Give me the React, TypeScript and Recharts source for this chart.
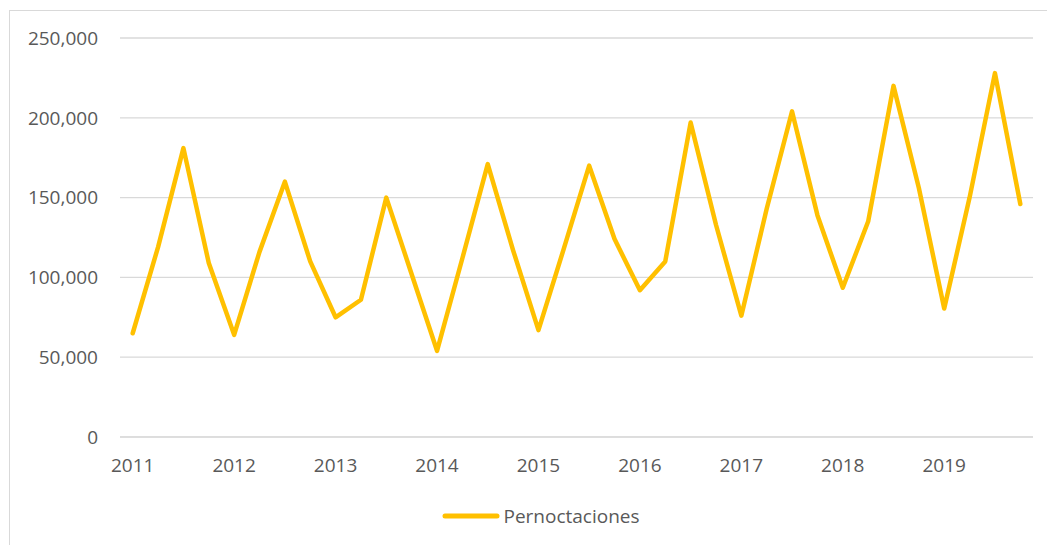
import { CartesianGrid, Legend, Line, LineChart, XAxis, YAxis } from "recharts";

const quarters = [
    "2011 T1", "2011 T2", "2011 T3", "2011 T4",
    "2012 T1", "2012 T2", "2012 T3", "2012 T4",
    "2013 T1", "2013 T2", "2013 T3", "2013 T4",
    "2014 T1", "2014 T2", "2014 T3", "2014 T4",
    "2015 T1", "2015 T2", "2015 T3", "2015 T4",
    "2016 T1", "2016 T2", "2016 T3", "2016 T4",
    "2017 T1", "2017 T2", "2017 T3", "2017 T4",
    "2018 T1", "2018 T2", "2018 T3", "2018 T4",
    "2019 T1", "2019 T2", "2019 T3", "2019 T4",
];

const pernoctaciones = [
    65000, 119000, 181000, 109000,
    64000, 116000, 160000, 110000,
    75000, 86000, 150000, 102000,
    54000, 112000, 171000, 117000,
    67000, 118000, 170000, 124000,
    92000, 110000, 197000, 133000,
    76000, 143000, 204000, 139000,
    93500, 135000, 220000, 156000,
    80500, 150000, 228000, 146000,
];

const yTicks = [0, 50000, 100000, 150000, 200000, 250000];

const data = quarters.map((q, i) => ({ quarter: q, value: pernoctaciones[i] }));

const FONT = "'Open Sans', sans-serif";
const TEXT = "#595959";
const GOLD = "#FFC000";

function LegendBox() {
    return (
        <div style={{ display: "flex", justifyContent: "center", alignItems: "center", height: 40, paddingLeft: 14 }}>
            <svg width={58} height={10} style={{ marginRight: 3 }}>
                <line x1={3} y1={5} x2={55} y2={5} stroke={GOLD} strokeWidth={5} strokeLinecap="round" />
            </svg>
            <span style={{ fontFamily: FONT, fontSize: 19, color: TEXT }}>Pernoctaciones</span>
        </div>
    );
}

export default function App() {
    return (
        <div style={{ marginLeft: 1, marginTop: 2, width: 1050, height: 540, border: "1px solid #d9d9d9", boxSizing: "border-box" }}>
            <LineChart
                width={1048}
                height={538}
                data={data}
                margin={{ top: 27, right: 25, left: 0, bottom: 13 }}
            >
                <CartesianGrid vertical={false} stroke="#d9d9d9" strokeWidth={1.3} />
                <XAxis
                    dataKey="quarter"
                    interval={3}
                    tickFormatter={(v: string) => v.slice(0, 4)}
                    padding={{ left: 12.7, right: 12.7 }}
                    axisLine={{ stroke: "#d9d9d9" }}
                    tickLine={false}
                    tickMargin={16}
                    height={59}
                    tick={{ fontFamily: FONT, fontSize: 19, fill: TEXT }}
                />
                <YAxis
                    domain={[0, 250000]}
                    ticks={yTicks}
                    width={110}
                    axisLine={false}
                    tickLine={false}
                    tickMargin={16}
                    tickFormatter={(v: number) => v.toLocaleString("en-US")}
                    tick={{ fontFamily: FONT, fontSize: 19, fill: TEXT }}
                />
                <Legend verticalAlign="bottom" content={<LegendBox />} wrapperStyle={{ left: 0, width: 1048 }} />
                <Line
                    type="linear"
                    dataKey="value"
                    name="Pernoctaciones"
                    stroke={GOLD}
                    strokeWidth={4.5}
                    strokeLinejoin="round"
                    strokeLinecap="round"
                    dot={false}
                    isAnimationActive={false}
                />
            </LineChart>
        </div>
    );
}
